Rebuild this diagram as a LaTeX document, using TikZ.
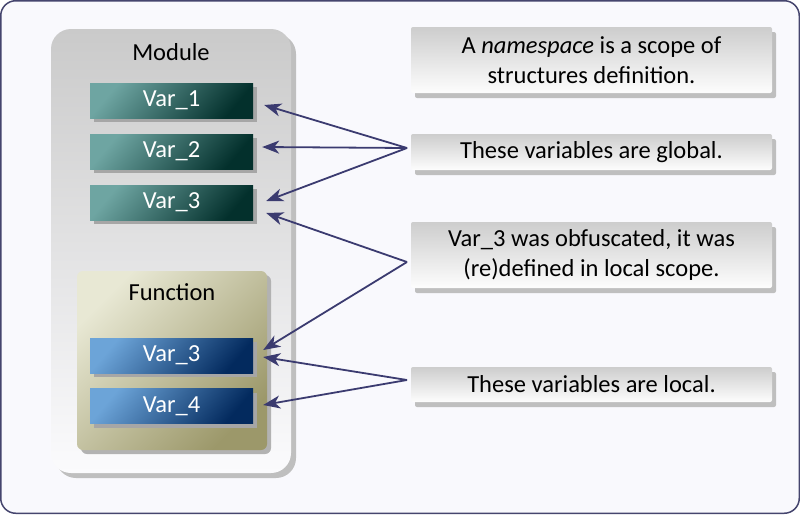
\documentclass[tikz,border=0pt]{standalone}
\usepackage{fontspec}
\setmainfont{Carlito}
\usetikzlibrary{arrows.meta}
\usetikzlibrary{shadows}

\definecolor{framebg}{HTML}{F9F9FD}
\definecolor{frameline}{HTML}{45456E}
\definecolor{arrowcol}{HTML}{3B3B70}
\definecolor{tealA}{HTML}{6EA5A2}
\definecolor{tealB}{HTML}{03302C}
\definecolor{blueA}{HTML}{6CA4D8}
\definecolor{blueB}{HTML}{032A5E}
\definecolor{oliveA}{HTML}{E8E8D4}
\definecolor{oliveB}{HTML}{9C986A}
\definecolor{modA}{HTML}{CACACA}
\definecolor{modB}{HTML}{FBFBFD}
\definecolor{noteA}{HTML}{CDCDCD}
\definecolor{noteB}{HTML}{FDFDFD}

\tikzset{
  txt/.style={font=\fontsize{24.5}{30}\selectfont},
  varbox/.style={txt,text=white,minimum width=163pt,minimum height=35pt,inner sep=0pt,
    drop shadow={shadow xshift=4pt,shadow yshift=-4pt,fill=black!35,opacity=1}},
  globvar/.style={varbox,top color=tealA,bottom color=tealB,shading angle=50},
  locvar/.style={varbox,top color=blueA,bottom color=blueB,shading angle=50},
  notebox/.style={txt,align=center,minimum width=361pt,inner sep=0pt,rounded corners=2pt,
    top color=noteA,bottom color=noteB,
    drop shadow={shadow xshift=4pt,shadow yshift=-5pt,fill=black!25,opacity=1}},
  pointer/.style={-{Stealth[length=17pt,width=13pt,inset=5pt]},line width=1.8pt,draw=arrowcol,arrowcol},
}

\begin{document}
\begin{tikzpicture}[x=1pt,y=-1pt]
    % Frame
    \useasboundingbox (0,0) rectangle (800,514);
    \draw[line width=1.5pt,draw=frameline,fill=framebg,rounded corners=15pt] (0.75,0.75) rectangle (799.25,513.25);

    % Draw the module and the function
    \node[minimum width=240pt,minimum height=444pt,rounded corners=20pt,top color=modA,bottom color=modB,
          drop shadow={shadow xshift=5pt,shadow yshift=-5pt,fill=black!25,opacity=1}] (module) at (171,251) {};
    \node[txt] (modtitle) at (171,52) {Module};
    \node[minimum width=190pt,minimum height=179pt,rounded corners=6pt,
          top color=oliveA,bottom color=oliveB,shading angle=45,
          drop shadow={shadow xshift=4pt,shadow yshift=-4pt,fill=black!30,opacity=1}] (function) at (172,360.5) {};
    \node[txt] (funtitle) at (172,292) {Function};

    % Draw the variables
    \node[globvar] (var1) at (171.5,100.5) {Var\_1};
    \node[globvar] (var2) at (171.5,151.5) {Var\_2};
    \node[globvar] (var3) at (171.5,202.5) {Var\_3};
    \node[locvar] (loc3) at (171.5,355.5) {Var\_3};
    \node[locvar] (loc4) at (171.5,406) {Var\_4};

    % Draw the notes
    \node[notebox,minimum height=66pt] (namespace) at (591.5,60) {A \textit{namespace} is a scope of\\structures definition.};
    \node[notebox,minimum height=36pt] (global) at (591.5,152) {These variables are global.};
    \node[notebox,minimum height=66pt] (obfus) at (591.5,255) {Var\_3 was obfuscated, it was\\(re)defined in local scope.};
    \node[notebox,minimum height=35pt] (local) at (591.5,384.5) {These variables are local.};

    % Draw the pointers
    \coordinate (cglob) at (407,148);
    \coordinate (cobf) at (407,262);
    \coordinate (cloc) at (407,380);

    \draw[pointer] (cglob) -- ([xshift=11pt,yshift=-4.5pt]var1.east);
    \draw[pointer] (cglob) -- ([xshift=9pt,yshift=4.5pt]var2.east);
    \draw[pointer] (cglob) -- ([xshift=13pt,yshift=1.5pt]var3.east);
    \draw[pointer] (cobf) -- ([xshift=13pt,yshift=-10.5pt]var3.east);
    \draw[pointer] (cobf) -- ([xshift=10pt,yshift=5.5pt]loc3.east);
    \draw[pointer] (cloc) -- ([xshift=10pt,yshift=-1.5pt]loc3.east);
    \draw[pointer] (cloc) -- ([xshift=10pt,yshift=1pt]loc4.east);
\end{tikzpicture}
\end{document}
